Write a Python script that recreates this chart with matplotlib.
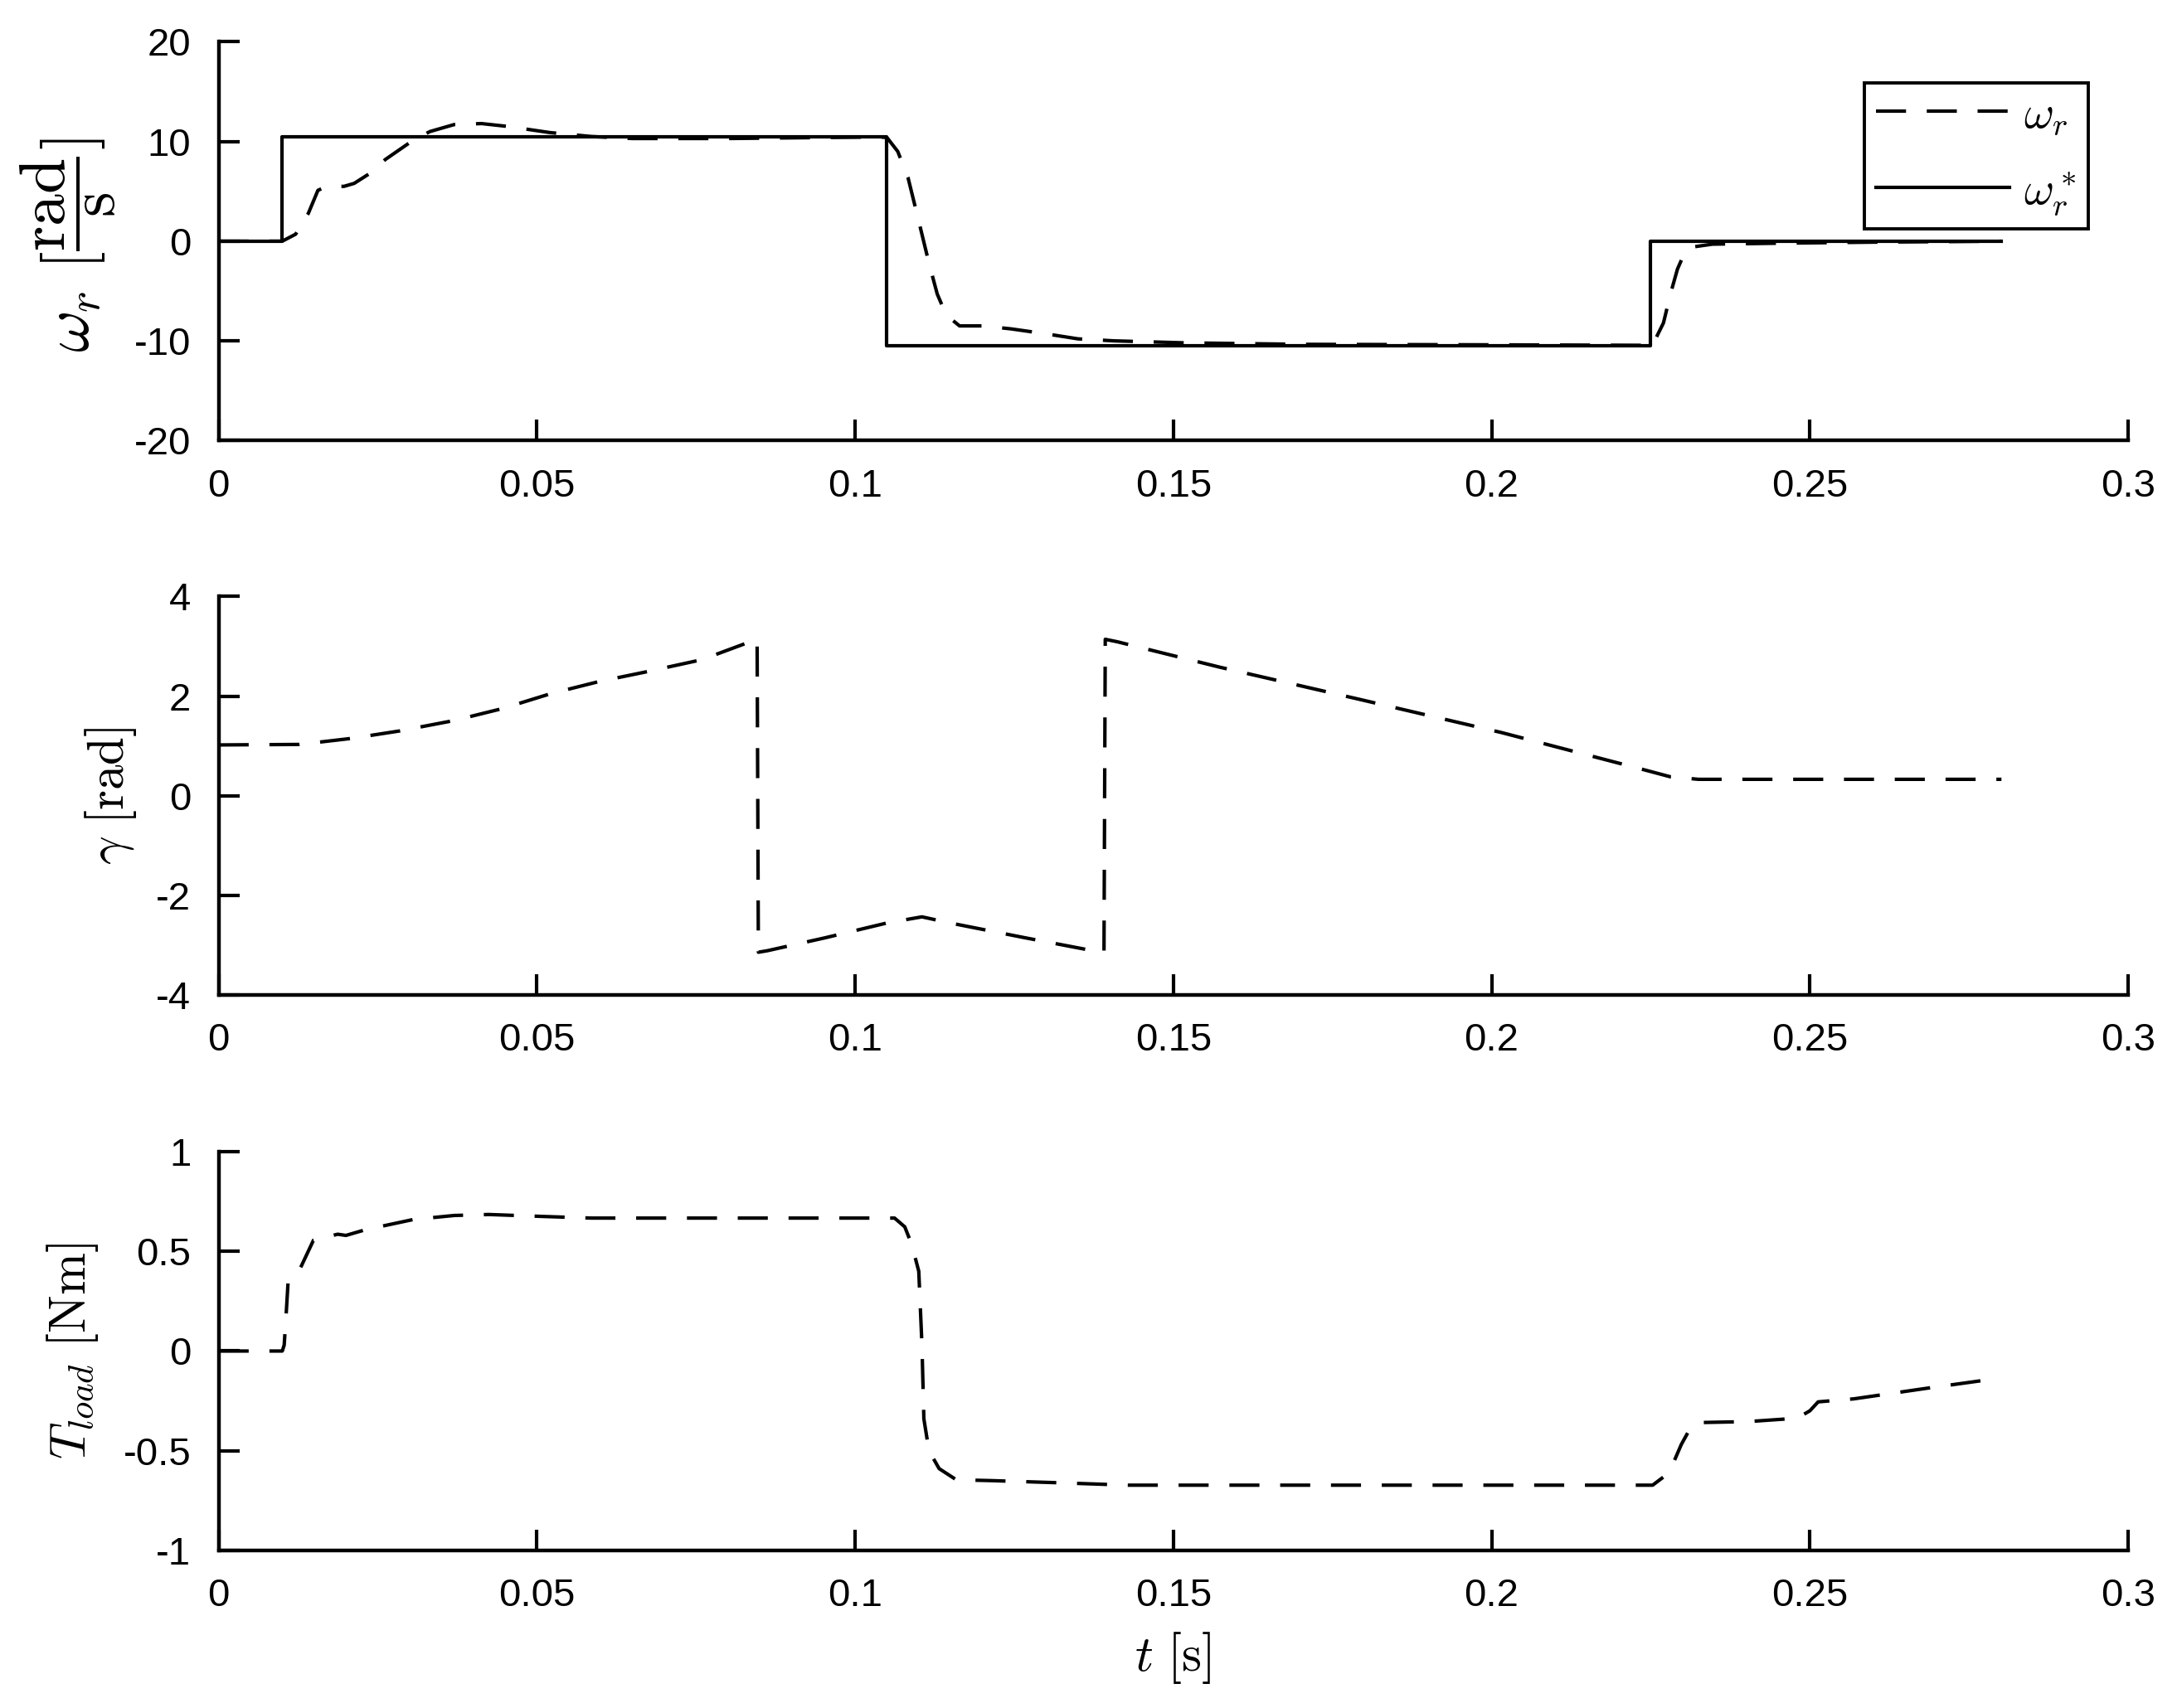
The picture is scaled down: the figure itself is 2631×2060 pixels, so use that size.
import numpy as np
import matplotlib
matplotlib.use('Agg')
from matplotlib import pyplot as plt

plt.rcParams['font.family'] = ['Liberation Sans', 'DejaVu Sans']
plt.rcParams['mathtext.fontset'] = 'cm'
plt.rcParams['axes.unicode_minus'] = False

# speed reference (steps)
t_ref = [0.0, 0.0100, 0.1050, 0.2250, 0.2800]
w_ref = [0.0, 10.47, -10.47, 0.0, 0.0]

# measured rotor speed
t_w = [0.0, 0.0100, 0.0121, 0.0141, 0.0156, 0.0170, 0.0197, 0.0213, 0.0240, 0.0262,
       0.0305, 0.0332, 0.0370, 0.0413, 0.0456, 0.0520, 0.0586, 0.0650, 0.0800, 0.0950,
       0.1040, 0.1050, 0.1067, 0.1083, 0.1100, 0.1116, 0.1129, 0.1143, 0.1164, 0.1200,
       0.1245, 0.1300, 0.1350, 0.1406, 0.1517, 0.1700, 0.2000, 0.2240, 0.2253, 0.2270,
       0.2281, 0.2292, 0.2303, 0.2314, 0.2347, 0.2458, 0.2600, 0.2800]
w_r = [0.0, 0.0, 0.7, 2.8, 5.1, 5.5, 5.5, 5.8, 6.9, 8.2,
       10.1, 11.0, 11.7, 11.8, 11.5, 10.9, 10.5, 10.3, 10.3, 10.4,
       10.45, 10.4, 9.0, 6.4, 2.0, -2.2, -5.3, -7.4, -8.5, -8.5,
       -8.8, -9.3, -9.8, -10.0, -10.2, -10.35, -10.4, -10.45, -10.4, -8.2,
       -5.3, -2.8, -1.2, -0.6, -0.3, -0.2, -0.1, 0.0]

# rotor angle (wrapped)
t_gam = [0.0, 0.0127, 0.0208, 0.0284, 0.0370, 0.0446, 0.0522, 0.0597, 0.0673, 0.0759,
         0.0835, 0.0846, 0.0848, 0.0862, 0.0953, 0.1051, 0.1105, 0.1148, 0.1267, 0.1386,
         0.1391, 0.1393, 0.1412, 0.1573, 0.1794, 0.2015, 0.2237, 0.2281, 0.2325, 0.2801]
gamma = [1.02, 1.03, 1.15, 1.30, 1.51, 1.75, 2.05, 2.29, 2.49, 2.73,
         3.09, 3.14, -3.14, -3.11, -2.85, -2.55, -2.43, -2.55, -2.85, -3.14,
         -3.14, 3.14, 3.09, 2.58, 1.93, 1.27, 0.53, 0.38, 0.33, 0.33]

# load torque
t_load = [0.0, 0.0100, 0.0103, 0.0106, 0.0109, 0.0117, 0.0129, 0.0149, 0.0187, 0.0200,
          0.0230, 0.0262, 0.0306, 0.0370, 0.0424, 0.0511, 0.0586, 0.0800, 0.1062, 0.1078,
          0.1089, 0.1100, 0.1105, 0.1108, 0.1116, 0.1132, 0.1159, 0.1213, 0.1321, 0.1429,
          0.1700, 0.2000, 0.2253, 0.2270, 0.2286, 0.2298, 0.2312, 0.2325, 0.2403, 0.2480,
          0.2500, 0.2513, 0.2569, 0.2679, 0.2796]
T_load = [0.0, 0.0, 0.03, 0.18, 0.34, 0.38, 0.42, 0.556, 0.586, 0.58,
          0.608, 0.63, 0.66, 0.68, 0.685, 0.675, 0.667, 0.667, 0.667, 0.623,
          0.534, 0.40, 0.03, -0.34, -0.50, -0.59, -0.646, -0.65, -0.661, -0.673,
          -0.673, -0.673, -0.673, -0.632, -0.558, -0.469, -0.388, -0.359, -0.354, -0.337,
          -0.30, -0.255, -0.24, -0.189, -0.137]

x_ticks = [0, 0.05, 0.1, 0.15, 0.2, 0.25, 0.3]
x_labels = ['0', '0.05', '0.1', '0.15', '0.2', '0.25', '0.3']

dash = (0, (8.7, 6))
lw = 1.5

fig = plt.figure(figsize=(13.155, 10.3), dpi=200)
ax1 = fig.add_axes([0.1002, 0.7421, 0.8751, 0.2334])
ax2 = fig.add_axes([0.1002, 0.4174, 0.8751, 0.2334])
ax3 = fig.add_axes([0.1002, 0.0923, 0.8751, 0.2334])


def style(ax, yticks, ylabels):
    for s in ['top', 'right']:
        ax.spines[s].set_visible(False)
    for s in ['left', 'bottom']:
        ax.spines[s].set_linewidth(1.6)
    ax.set_xlim(0, 0.3)
    ax.set_ylim(yticks[0], yticks[-1])
    ax.set_xticks(x_ticks)
    ax.set_xticklabels(x_labels)
    ax.set_yticks(yticks)
    ax.set_yticklabels(ylabels)
    ax.tick_params(direction='in', length=9, width=1.5, labelsize=17)
    ax.tick_params(axis='x', pad=12)
    ax.tick_params(axis='y', pad=12)


ax1.plot(t_w, w_r, color='k', lw=lw, linestyle=dash, label=r'$\omega_r$')
ax1.plot(t_ref, w_ref, color='k', lw=lw, drawstyle='steps-post', label=r'$\omega_r^*$')
style(ax1, [-20, -10, 0, 10, 20], ['-20', '-10', '0', '10', '20'])
ax1.set_ylabel(r'$\omega_r\ [\dfrac{\mathrm{rad}}{\mathrm{s}}]$', fontsize=28)
ax1.yaxis.set_label_coords(-0.053, 0.49)
leg = ax1.legend(loc='upper right', bbox_to_anchor=(0.979, 0.897), fontsize=20,
                 handlelength=2.9, handletextpad=0.3, labelspacing=0.7,
                 borderpad=0.25, borderaxespad=0, fancybox=False, edgecolor='k',
                 framealpha=1)
leg.get_frame().set_linewidth(1.4)

ax2.plot(t_gam, gamma, color='k', lw=lw, linestyle=dash)
style(ax2, [-4, -2, 0, 2, 4], ['-4', '-2', '0', '2', '4'])
ax2.set_ylabel(r'$\gamma\ [\mathrm{rad}]$', fontsize=22)
ax2.yaxis.set_label_coords(-0.042, 0.5)

ax3.plot(t_load, T_load, color='k', lw=lw, linestyle=dash)
style(ax3, [-1, -0.5, 0, 0.5, 1], ['-1', '-0.5', '0', '0.5', '1'])
ax3.set_ylabel(r'$T_{load}\ [\mathrm{Nm}]$', fontsize=22)
ax3.yaxis.set_label_coords(-0.062, 0.5)
ax3.set_xlabel(r'$t\ [\mathrm{s}]$', fontsize=22)
ax3.xaxis.set_label_coords(0.5, -0.2)

plt.savefig('out.png', dpi=200)
